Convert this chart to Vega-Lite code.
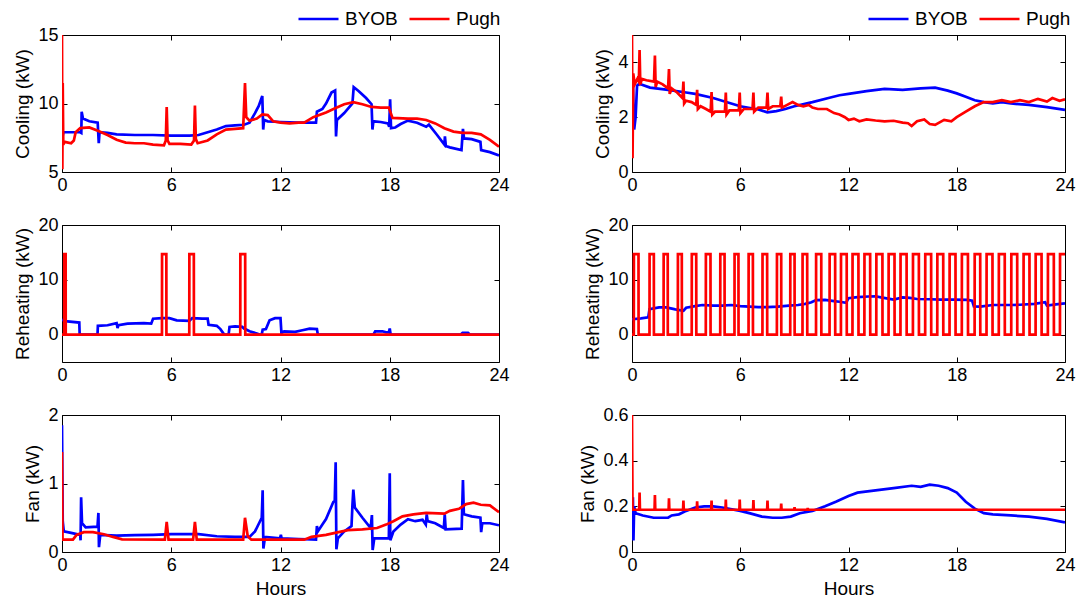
{
  "$schema": "https://vega.github.io/schema/vega-lite/v6.json",
  "padding": {"left": 13, "top": 8, "right": 5, "bottom": 5},
  "background": "white",
  "config": {
    "font": "Liberation Sans",
    "view": {"stroke": "black", "strokeWidth": 1},
    "line": {"strokeWidth": 2.7},
    "axis": {"domain": false, "grid": false, "ticks": true, "tickSize": -5, "tickColor": "black", "tickWidth": 1,
      "labelFont": "Liberation Sans", "labelFontSize": 18, "labelColor": "black", "labelPadding": 9, "labelFlush": false,
      "titleFont": "Liberation Sans", "titleFontSize": 19, "titleFontWeight": "normal", "titleColor": "black", "titlePadding": 5},
    "axisX": {"labelPadding": 9, "titlePadding": 5},
    "legend": {"orient": "none", "legendX": 235, "legendY": -26, "direction": "horizontal", "symbolType": "stroke", "symbolSize": 1600, "clipHeight": 20,
      "symbolStrokeWidth": 2.7, "labelFont": "Liberation Sans", "labelFontSize": 19, "labelColor": "black", "labelOffset": 5, "columnPadding": 10, "padding": 0}
  },
  "datasets": {
    "cl": [
      {"s":"BYOB","h":0,"v":10.2},{"s":"BYOB","h":0.03,"v":7.6},{"s":"BYOB","h":0.08,"v":7.9},{"s":"BYOB","h":0.5,"v":7.9},{"s":"BYOB","h":1.0,"v":7.9},{"s":"BYOB","h":1.06,"v":7.85},{"s":"BYOB","h":1.08,"v":9.4},{"s":"BYOB","h":1.15,"v":8.9},{"s":"BYOB","h":1.5,"v":8.7},{"s":"BYOB","h":1.96,"v":8.6},{"s":"BYOB","h":2.02,"v":7.1},{"s":"BYOB","h":2.06,"v":7.9},{"s":"BYOB","h":2.5,"v":7.85},{"s":"BYOB","h":3,"v":7.75},{"s":"BYOB","h":4,"v":7.7},{"s":"BYOB","h":5,"v":7.7},{"s":"BYOB","h":6,"v":7.65},{"s":"BYOB","h":7,"v":7.65},{"s":"BYOB","h":7.5,"v":7.7},{"s":"BYOB","h":8,"v":7.9},{"s":"BYOB","h":8.5,"v":8.1},{"s":"BYOB","h":9,"v":8.35},{"s":"BYOB","h":9.5,"v":8.4},{"s":"BYOB","h":10,"v":8.45},{"s":"BYOB","h":10.3,"v":8.6},{"s":"BYOB","h":10.6,"v":9.3},{"s":"BYOB","h":10.8,"v":9.8},{"s":"BYOB","h":11.0,"v":10.55},{"s":"BYOB","h":11.05,"v":8.1},{"s":"BYOB","h":11.1,"v":8.8},{"s":"BYOB","h":11.3,"v":8.7},{"s":"BYOB","h":12,"v":8.65},{"s":"BYOB","h":13,"v":8.6},{"s":"BYOB","h":13.95,"v":8.6},{"s":"BYOB","h":14.0,"v":9.4},{"s":"BYOB","h":14.3,"v":9.6},{"s":"BYOB","h":14.5,"v":10.0},{"s":"BYOB","h":14.8,"v":10.8},{"s":"BYOB","h":15.0,"v":10.95},{"s":"BYOB","h":15.05,"v":7.6},{"s":"BYOB","h":15.1,"v":8.8},{"s":"BYOB","h":15.5,"v":9.3},{"s":"BYOB","h":15.95,"v":10.0},{"s":"BYOB","h":16.02,"v":11.2},{"s":"BYOB","h":16.3,"v":10.9},{"s":"BYOB","h":16.7,"v":10.4},{"s":"BYOB","h":17.0,"v":9.95},{"s":"BYOB","h":17.05,"v":8.1},{"s":"BYOB","h":17.1,"v":8.7},{"s":"BYOB","h":17.5,"v":8.65},{"s":"BYOB","h":17.9,"v":8.55},{"s":"BYOB","h":17.97,"v":8.3},{"s":"BYOB","h":18.02,"v":10.3},{"s":"BYOB","h":18.07,"v":8.2},{"s":"BYOB","h":18.3,"v":8.25},{"s":"BYOB","h":18.6,"v":8.5},{"s":"BYOB","h":19,"v":8.75},{"s":"BYOB","h":19.5,"v":8.6},{"s":"BYOB","h":20,"v":8.3},{"s":"BYOB","h":20.15,"v":8.45},{"s":"BYOB","h":20.6,"v":7.7},{"s":"BYOB","h":21.0,"v":7.0},{"s":"BYOB","h":21.03,"v":7.6},{"s":"BYOB","h":21.08,"v":6.9},{"s":"BYOB","h":21.3,"v":6.8},{"s":"BYOB","h":21.94,"v":6.6},{"s":"BYOB","h":22.02,"v":8.15},{"s":"BYOB","h":22.08,"v":7.45},{"s":"BYOB","h":22.5,"v":7.4},{"s":"BYOB","h":22.98,"v":7.2},{"s":"BYOB","h":23.02,"v":6.6},{"s":"BYOB","h":23.5,"v":6.45},{"s":"BYOB","h":24,"v":6.2},
      {"s":"Pugh","h":0,"v":15},{"s":"Pugh","h":0.02,"v":5.2},{"s":"Pugh","h":0.04,"v":11.5},{"s":"Pugh","h":0.07,"v":7.0},{"s":"Pugh","h":0.15,"v":7.2},{"s":"Pugh","h":0.5,"v":7.1},{"s":"Pugh","h":0.65,"v":7.3},{"s":"Pugh","h":0.75,"v":7.9},{"s":"Pugh","h":1.0,"v":8.2},{"s":"Pugh","h":1.5,"v":8.25},{"s":"Pugh","h":2.0,"v":8.0},{"s":"Pugh","h":2.5,"v":7.7},{"s":"Pugh","h":3.0,"v":7.35},{"s":"Pugh","h":3.5,"v":7.15},{"s":"Pugh","h":4,"v":7.1},{"s":"Pugh","h":4.5,"v":7.1},{"s":"Pugh","h":5,"v":7.0},{"s":"Pugh","h":5.6,"v":6.95},{"s":"Pugh","h":5.7,"v":7.3},{"s":"Pugh","h":5.75,"v":9.75},{"s":"Pugh","h":5.8,"v":7.3},{"s":"Pugh","h":5.9,"v":7.05},{"s":"Pugh","h":6.5,"v":7.05},{"s":"Pugh","h":7.1,"v":7.0},{"s":"Pugh","h":7.25,"v":7.3},{"s":"Pugh","h":7.3,"v":9.85},{"s":"Pugh","h":7.35,"v":7.4},{"s":"Pugh","h":7.45,"v":7.1},{"s":"Pugh","h":8,"v":7.3},{"s":"Pugh","h":8.5,"v":7.75},{"s":"Pugh","h":9,"v":8.1},{"s":"Pugh","h":9.5,"v":8.15},{"s":"Pugh","h":9.95,"v":8.2},{"s":"Pugh","h":10.05,"v":11.5},{"s":"Pugh","h":10.12,"v":9.0},{"s":"Pugh","h":10.3,"v":8.75},{"s":"Pugh","h":10.7,"v":8.9},{"s":"Pugh","h":11,"v":9.2},{"s":"Pugh","h":11.3,"v":9.15},{"s":"Pugh","h":11.6,"v":8.7},{"s":"Pugh","h":12,"v":8.6},{"s":"Pugh","h":12.5,"v":8.55},{"s":"Pugh","h":13,"v":8.6},{"s":"Pugh","h":13.3,"v":8.6},{"s":"Pugh","h":13.8,"v":9.0},{"s":"Pugh","h":14.5,"v":9.35},{"s":"Pugh","h":15,"v":9.65},{"s":"Pugh","h":15.5,"v":9.95},{"s":"Pugh","h":16,"v":10.1},{"s":"Pugh","h":16.5,"v":9.95},{"s":"Pugh","h":17,"v":9.75},{"s":"Pugh","h":17.5,"v":9.7},{"s":"Pugh","h":17.95,"v":9.7},{"s":"Pugh","h":18.15,"v":8.95},{"s":"Pugh","h":19,"v":8.9},{"s":"Pugh","h":19.5,"v":8.9},{"s":"Pugh","h":20,"v":8.8},{"s":"Pugh","h":20.5,"v":8.55},{"s":"Pugh","h":21,"v":8.2},{"s":"Pugh","h":21.5,"v":7.95},{"s":"Pugh","h":22,"v":7.85},{"s":"Pugh","h":22.5,"v":7.85},{"s":"Pugh","h":23,"v":7.75},{"s":"Pugh","h":23.5,"v":7.35},{"s":"Pugh","h":24,"v":6.85}
    ],
    "cr": [
      {"s":"BYOB","h":0.05,"v":3.2},{"s":"BYOB","h":0.12,"v":1.55},{"s":"BYOB","h":0.2,"v":2.0},{"s":"BYOB","h":0.28,"v":3.15},{"s":"BYOB","h":0.4,"v":3.22},{"s":"BYOB","h":1,"v":3.08},{"s":"BYOB","h":2,"v":3.0},{"s":"BYOB","h":3,"v":2.9},{"s":"BYOB","h":3.5,"v":2.85},{"s":"BYOB","h":4.5,"v":2.7},{"s":"BYOB","h":5.5,"v":2.5},{"s":"BYOB","h":6,"v":2.4},{"s":"BYOB","h":7,"v":2.28},{"s":"BYOB","h":7.5,"v":2.18},{"s":"BYOB","h":8,"v":2.22},{"s":"BYOB","h":8.5,"v":2.3},{"s":"BYOB","h":9,"v":2.4},{"s":"BYOB","h":10,"v":2.55},{"s":"BYOB","h":11,"v":2.72},{"s":"BYOB","h":11.5,"v":2.8},{"s":"BYOB","h":12,"v":2.85},{"s":"BYOB","h":13,"v":2.95},{"s":"BYOB","h":14,"v":3.03},{"s":"BYOB","h":15,"v":3.0},{"s":"BYOB","h":16,"v":3.05},{"s":"BYOB","h":16.8,"v":3.08},{"s":"BYOB","h":17.5,"v":2.97},{"s":"BYOB","h":18,"v":2.87},{"s":"BYOB","h":18.5,"v":2.75},{"s":"BYOB","h":19,"v":2.62},{"s":"BYOB","h":19.5,"v":2.55},{"s":"BYOB","h":20,"v":2.5},{"s":"BYOB","h":20.5,"v":2.55},{"s":"BYOB","h":21,"v":2.5},{"s":"BYOB","h":22,"v":2.45},{"s":"BYOB","h":23,"v":2.37},{"s":"BYOB","h":24,"v":2.27},
      {"s":"Pugh","h":0,"v":5.0},{"s":"Pugh","h":0.03,"v":0.5},{"s":"Pugh","h":0.07,"v":3.6},{"s":"Pugh","h":0.15,"v":3.2},{"s":"Pugh","h":0.3,"v":3.4},{"s":"Pugh","h":0.38,"v":3.3},{"s":"Pugh","h":0.42,"v":4.45},{"s":"Pugh","h":0.46,"v":3.2},{"s":"Pugh","h":0.55,"v":3.4},{"s":"Pugh","h":0.8,"v":3.35},{"s":"Pugh","h":1.22,"v":3.3},{"s":"Pugh","h":1.27,"v":4.25},{"s":"Pugh","h":1.31,"v":3.1},{"s":"Pugh","h":1.4,"v":3.3},{"s":"Pugh","h":1.7,"v":3.2},{"s":"Pugh","h":2.0,"v":3.05},{"s":"Pugh","h":2.05,"v":3.76},{"s":"Pugh","h":2.09,"v":2.85},{"s":"Pugh","h":2.2,"v":3.05},{"s":"Pugh","h":2.5,"v":2.9},{"s":"Pugh","h":2.8,"v":2.7},{"s":"Pugh","h":2.85,"v":3.3},{"s":"Pugh","h":2.89,"v":2.5},{"s":"Pugh","h":3.0,"v":2.6},{"s":"Pugh","h":3.3,"v":2.55},{"s":"Pugh","h":3.56,"v":2.45},{"s":"Pugh","h":3.61,"v":3.0},{"s":"Pugh","h":3.65,"v":2.3},{"s":"Pugh","h":3.8,"v":2.4},{"s":"Pugh","h":4.1,"v":2.3},{"s":"Pugh","h":4.36,"v":2.2},{"s":"Pugh","h":4.41,"v":2.92},{"s":"Pugh","h":4.45,"v":2.1},{"s":"Pugh","h":4.6,"v":2.2},{"s":"Pugh","h":5.15,"v":2.2},{"s":"Pugh","h":5.2,"v":2.9},{"s":"Pugh","h":5.24,"v":2.1},{"s":"Pugh","h":5.4,"v":2.25},{"s":"Pugh","h":5.92,"v":2.25},{"s":"Pugh","h":5.97,"v":2.9},{"s":"Pugh","h":6.01,"v":2.15},{"s":"Pugh","h":6.2,"v":2.3},{"s":"Pugh","h":6.68,"v":2.3},{"s":"Pugh","h":6.73,"v":2.9},{"s":"Pugh","h":6.77,"v":2.2},{"s":"Pugh","h":7.0,"v":2.35},{"s":"Pugh","h":7.46,"v":2.35},{"s":"Pugh","h":7.51,"v":2.9},{"s":"Pugh","h":7.55,"v":2.3},{"s":"Pugh","h":7.8,"v":2.4},{"s":"Pugh","h":8.22,"v":2.4},{"s":"Pugh","h":8.27,"v":2.75},{"s":"Pugh","h":8.31,"v":2.35},{"s":"Pugh","h":8.6,"v":2.45},{"s":"Pugh","h":8.9,"v":2.55},{"s":"Pugh","h":9.2,"v":2.45},{"s":"Pugh","h":9.5,"v":2.4},{"s":"Pugh","h":9.8,"v":2.45},{"s":"Pugh","h":10.0,"v":2.35},{"s":"Pugh","h":10.3,"v":2.3},{"s":"Pugh","h":10.8,"v":2.3},{"s":"Pugh","h":11.2,"v":2.15},{"s":"Pugh","h":11.5,"v":2.1},{"s":"Pugh","h":11.8,"v":2.0},{"s":"Pugh","h":12,"v":1.9},{"s":"Pugh","h":12.3,"v":1.95},{"s":"Pugh","h":12.6,"v":1.85},{"s":"Pugh","h":13,"v":1.92},{"s":"Pugh","h":13.5,"v":1.88},{"s":"Pugh","h":14,"v":1.85},{"s":"Pugh","h":14.5,"v":1.87},{"s":"Pugh","h":15,"v":1.8},{"s":"Pugh","h":15.3,"v":1.78},{"s":"Pugh","h":15.5,"v":1.68},{"s":"Pugh","h":15.8,"v":1.85},{"s":"Pugh","h":16.2,"v":1.92},{"s":"Pugh","h":16.5,"v":1.75},{"s":"Pugh","h":16.8,"v":1.72},{"s":"Pugh","h":17.3,"v":1.9},{"s":"Pugh","h":17.7,"v":1.85},{"s":"Pugh","h":18,"v":2.0},{"s":"Pugh","h":18.5,"v":2.2},{"s":"Pugh","h":19,"v":2.4},{"s":"Pugh","h":19.5,"v":2.55},{"s":"Pugh","h":20,"v":2.55},{"s":"Pugh","h":20.5,"v":2.62},{"s":"Pugh","h":21,"v":2.55},{"s":"Pugh","h":21.5,"v":2.62},{"s":"Pugh","h":22,"v":2.55},{"s":"Pugh","h":22.5,"v":2.67},{"s":"Pugh","h":23,"v":2.57},{"s":"Pugh","h":23.3,"v":2.7},{"s":"Pugh","h":23.7,"v":2.6},{"s":"Pugh","h":24,"v":2.65}
    ],
    "rl": [
      {"s":"BYOB","h":0,"v":2.7},{"s":"BYOB","h":0.3,"v":2.4},{"s":"BYOB","h":0.95,"v":2.2},{"s":"BYOB","h":0.97,"v":0},{"s":"BYOB","h":1.95,"v":0},{"s":"BYOB","h":1.97,"v":1.6},{"s":"BYOB","h":2.5,"v":1.7},{"s":"BYOB","h":3.0,"v":2.1},{"s":"BYOB","h":3.05,"v":1.2},{"s":"BYOB","h":3.1,"v":1.7},{"s":"BYOB","h":3.6,"v":2.0},{"s":"BYOB","h":4.5,"v":2.1},{"s":"BYOB","h":4.9,"v":2.0},{"s":"BYOB","h":5.0,"v":2.9},{"s":"BYOB","h":5.5,"v":3.0},{"s":"BYOB","h":5.9,"v":3.0},{"s":"BYOB","h":6.3,"v":2.6},{"s":"BYOB","h":7.0,"v":2.5},{"s":"BYOB","h":7.15,"v":3.0},{"s":"BYOB","h":7.7,"v":2.9},{"s":"BYOB","h":8.0,"v":2.9},{"s":"BYOB","h":8.05,"v":1.8},{"s":"BYOB","h":8.5,"v":1.6},{"s":"BYOB","h":8.7,"v":1.0},{"s":"BYOB","h":8.9,"v":0.05},{"s":"BYOB","h":9.15,"v":0},{"s":"BYOB","h":9.2,"v":1.4},{"s":"BYOB","h":9.5,"v":1.5},{"s":"BYOB","h":9.9,"v":1.4},{"s":"BYOB","h":10.0,"v":1.1},{"s":"BYOB","h":10.3,"v":0.6},{"s":"BYOB","h":10.7,"v":0.2},{"s":"BYOB","h":10.85,"v":0},{"s":"BYOB","h":10.97,"v":0},{"s":"BYOB","h":11.02,"v":0.9},{"s":"BYOB","h":11.2,"v":1.0},{"s":"BYOB","h":11.4,"v":2.6},{"s":"BYOB","h":11.7,"v":3.0},{"s":"BYOB","h":12.0,"v":3.0},{"s":"BYOB","h":12.05,"v":0.3},{"s":"BYOB","h":12.2,"v":0.6},{"s":"BYOB","h":12.8,"v":0.5},{"s":"BYOB","h":13.2,"v":0.8},{"s":"BYOB","h":13.6,"v":1.1},{"s":"BYOB","h":14.0,"v":1.0},{"s":"BYOB","h":14.05,"v":0},{"s":"BYOB","h":17.1,"v":0},{"s":"BYOB","h":17.2,"v":0.6},{"s":"BYOB","h":17.6,"v":0.6},{"s":"BYOB","h":17.8,"v":0.4},{"s":"BYOB","h":17.95,"v":0.4},{"s":"BYOB","h":18.0,"v":1.1},{"s":"BYOB","h":18.05,"v":0},{"s":"BYOB","h":21.9,"v":0},{"s":"BYOB","h":22.0,"v":0.3},{"s":"BYOB","h":22.3,"v":0.3},{"s":"BYOB","h":22.4,"v":0},{"s":"BYOB","h":24,"v":0},
      {"s":"Pugh","h":0,"v":0},{"s":"Pugh","h":0.12,"v":0},{"s":"Pugh","h":0.125,"v":14.7},{"s":"Pugh","h":0.2,"v":14.7},{"s":"Pugh","h":0.205,"v":0},{"s":"Pugh","h":5.49,"v":0},{"s":"Pugh","h":5.495,"v":14.7},{"s":"Pugh","h":5.73,"v":14.7},{"s":"Pugh","h":5.735,"v":0},{"s":"Pugh","h":6.99,"v":0},{"s":"Pugh","h":6.995,"v":14.7},{"s":"Pugh","h":7.24,"v":14.7},{"s":"Pugh","h":7.245,"v":0},{"s":"Pugh","h":9.79,"v":0},{"s":"Pugh","h":9.795,"v":14.7},{"s":"Pugh","h":10.06,"v":14.7},{"s":"Pugh","h":10.065,"v":0},{"s":"Pugh","h":24,"v":0}
    ],
    "rr": [
      {"s":"BYOB","h":0,"v":2.8},{"s":"BYOB","h":0.5,"v":2.95},{"s":"BYOB","h":0.9,"v":3.15},{"s":"BYOB","h":0.97,"v":4.65},{"s":"BYOB","h":1.5,"v":4.95},{"s":"BYOB","h":1.9,"v":4.95},{"s":"BYOB","h":2.4,"v":4.6},{"s":"BYOB","h":2.85,"v":4.35},{"s":"BYOB","h":3.0,"v":4.9},{"s":"BYOB","h":3.5,"v":5.2},{"s":"BYOB","h":3.9,"v":5.4},{"s":"BYOB","h":4.5,"v":5.3},{"s":"BYOB","h":5.0,"v":5.3},{"s":"BYOB","h":5.5,"v":5.4},{"s":"BYOB","h":6.0,"v":5.2},{"s":"BYOB","h":6.5,"v":5.1},{"s":"BYOB","h":7.0,"v":5.0},{"s":"BYOB","h":7.5,"v":5.0},{"s":"BYOB","h":8.1,"v":5.1},{"s":"BYOB","h":8.7,"v":5.3},{"s":"BYOB","h":9.2,"v":5.4},{"s":"BYOB","h":9.6,"v":5.6},{"s":"BYOB","h":9.95,"v":5.9},{"s":"BYOB","h":10.2,"v":6.3},{"s":"BYOB","h":10.7,"v":6.35},{"s":"BYOB","h":11.2,"v":6.1},{"s":"BYOB","h":11.5,"v":6.0},{"s":"BYOB","h":11.87,"v":5.8},{"s":"BYOB","h":12.0,"v":6.65},{"s":"BYOB","h":12.5,"v":6.85},{"s":"BYOB","h":13.1,"v":6.95},{"s":"BYOB","h":13.5,"v":7.0},{"s":"BYOB","h":13.8,"v":6.8},{"s":"BYOB","h":14.5,"v":6.4},{"s":"BYOB","h":15.0,"v":6.8},{"s":"BYOB","h":15.4,"v":6.7},{"s":"BYOB","h":15.8,"v":6.5},{"s":"BYOB","h":16.5,"v":6.45},{"s":"BYOB","h":17.1,"v":6.4},{"s":"BYOB","h":17.8,"v":6.4},{"s":"BYOB","h":18.6,"v":6.35},{"s":"BYOB","h":18.85,"v":6.2},{"s":"BYOB","h":18.95,"v":5.15},{"s":"BYOB","h":19.3,"v":5.1},{"s":"BYOB","h":20.0,"v":5.4},{"s":"BYOB","h":21.0,"v":5.4},{"s":"BYOB","h":21.5,"v":5.45},{"s":"BYOB","h":22.3,"v":5.6},{"s":"BYOB","h":22.9,"v":5.9},{"s":"BYOB","h":23.0,"v":5.3},{"s":"BYOB","h":23.5,"v":5.5},{"s":"BYOB","h":24,"v":5.7},
      {"s":"Pugh","h":0,"v":0},
      {"s":"Pugh","h":0.1,"v":0},{"s":"Pugh","h":0.105,"v":14.7},{"s":"Pugh","h":0.36,"v":14.7},{"s":"Pugh","h":0.365,"v":0},
      {"s":"Pugh","h":0.97,"v":0},{"s":"Pugh","h":0.975,"v":14.7},{"s":"Pugh","h":1.21,"v":14.7},{"s":"Pugh","h":1.215,"v":0},
      {"s":"Pugh","h":1.75,"v":0},{"s":"Pugh","h":1.755,"v":14.7},{"s":"Pugh","h":1.98,"v":14.7},{"s":"Pugh","h":1.985,"v":0},
      {"s":"Pugh","h":2.54,"v":0},{"s":"Pugh","h":2.545,"v":14.7},{"s":"Pugh","h":2.76,"v":14.7},{"s":"Pugh","h":2.765,"v":0},
      {"s":"Pugh","h":3.31,"v":0},{"s":"Pugh","h":3.315,"v":14.7},{"s":"Pugh","h":3.56,"v":14.7},{"s":"Pugh","h":3.565,"v":0},
      {"s":"Pugh","h":4.09,"v":0},{"s":"Pugh","h":4.095,"v":14.7},{"s":"Pugh","h":4.35,"v":14.7},{"s":"Pugh","h":4.355,"v":0},
      {"s":"Pugh","h":4.89,"v":0},{"s":"Pugh","h":4.895,"v":14.7},{"s":"Pugh","h":5.13,"v":14.7},{"s":"Pugh","h":5.135,"v":0},
      {"s":"Pugh","h":5.68,"v":0},{"s":"Pugh","h":5.685,"v":14.7},{"s":"Pugh","h":5.9,"v":14.7},{"s":"Pugh","h":5.905,"v":0},
      {"s":"Pugh","h":6.46,"v":0},{"s":"Pugh","h":6.465,"v":14.7},{"s":"Pugh","h":6.7,"v":14.7},{"s":"Pugh","h":6.705,"v":0},
      {"s":"Pugh","h":7.23,"v":0},{"s":"Pugh","h":7.235,"v":14.7},{"s":"Pugh","h":7.49,"v":14.7},{"s":"Pugh","h":7.495,"v":0},
      {"s":"Pugh","h":8.03,"v":0},{"s":"Pugh","h":8.035,"v":14.7},{"s":"Pugh","h":8.27,"v":14.7},{"s":"Pugh","h":8.275,"v":0},
      {"s":"Pugh","h":8.77,"v":0},{"s":"Pugh","h":8.775,"v":14.7},{"s":"Pugh","h":9.01,"v":14.7},{"s":"Pugh","h":9.015,"v":0},
      {"s":"Pugh","h":9.45,"v":0},{"s":"Pugh","h":9.455,"v":14.7},{"s":"Pugh","h":9.71,"v":14.7},{"s":"Pugh","h":9.715,"v":0},
      {"s":"Pugh","h":10.2,"v":0},{"s":"Pugh","h":10.205,"v":14.7},{"s":"Pugh","h":10.49,"v":14.7},{"s":"Pugh","h":10.495,"v":0},
      {"s":"Pugh","h":10.95,"v":0},{"s":"Pugh","h":10.955,"v":14.7},{"s":"Pugh","h":11.26,"v":14.7},{"s":"Pugh","h":11.265,"v":0},
      {"s":"Pugh","h":11.58,"v":0},{"s":"Pugh","h":11.585,"v":14.7},{"s":"Pugh","h":11.9,"v":14.7},{"s":"Pugh","h":11.905,"v":0},
      {"s":"Pugh","h":12.22,"v":0},{"s":"Pugh","h":12.225,"v":14.7},{"s":"Pugh","h":12.55,"v":14.7},{"s":"Pugh","h":12.555,"v":0},
      {"s":"Pugh","h":12.88,"v":0},{"s":"Pugh","h":12.885,"v":14.7},{"s":"Pugh","h":13.2,"v":14.7},{"s":"Pugh","h":13.205,"v":0},
      {"s":"Pugh","h":13.54,"v":0},{"s":"Pugh","h":13.545,"v":14.7},{"s":"Pugh","h":13.88,"v":14.7},{"s":"Pugh","h":13.885,"v":0},
      {"s":"Pugh","h":14.22,"v":0},{"s":"Pugh","h":14.225,"v":14.7},{"s":"Pugh","h":14.55,"v":14.7},{"s":"Pugh","h":14.555,"v":0},
      {"s":"Pugh","h":14.88,"v":0},{"s":"Pugh","h":14.885,"v":14.7},{"s":"Pugh","h":15.22,"v":14.7},{"s":"Pugh","h":15.225,"v":0},
      {"s":"Pugh","h":15.57,"v":0},{"s":"Pugh","h":15.575,"v":14.7},{"s":"Pugh","h":15.9,"v":14.7},{"s":"Pugh","h":15.905,"v":0},
      {"s":"Pugh","h":16.25,"v":0},{"s":"Pugh","h":16.255,"v":14.7},{"s":"Pugh","h":16.58,"v":14.7},{"s":"Pugh","h":16.585,"v":0},
      {"s":"Pugh","h":16.92,"v":0},{"s":"Pugh","h":16.925,"v":14.7},{"s":"Pugh","h":17.25,"v":14.7},{"s":"Pugh","h":17.255,"v":0},
      {"s":"Pugh","h":17.6,"v":0},{"s":"Pugh","h":17.605,"v":14.7},{"s":"Pugh","h":17.93,"v":14.7},{"s":"Pugh","h":17.935,"v":0},
      {"s":"Pugh","h":18.28,"v":0},{"s":"Pugh","h":18.285,"v":14.7},{"s":"Pugh","h":18.62,"v":14.7},{"s":"Pugh","h":18.625,"v":0},
      {"s":"Pugh","h":18.99,"v":0},{"s":"Pugh","h":18.995,"v":14.7},{"s":"Pugh","h":19.3,"v":14.7},{"s":"Pugh","h":19.305,"v":0},
      {"s":"Pugh","h":19.65,"v":0},{"s":"Pugh","h":19.655,"v":14.7},{"s":"Pugh","h":19.98,"v":14.7},{"s":"Pugh","h":19.985,"v":0},
      {"s":"Pugh","h":20.33,"v":0},{"s":"Pugh","h":20.335,"v":14.7},{"s":"Pugh","h":20.66,"v":14.7},{"s":"Pugh","h":20.665,"v":0},
      {"s":"Pugh","h":21.02,"v":0},{"s":"Pugh","h":21.025,"v":14.7},{"s":"Pugh","h":21.35,"v":14.7},{"s":"Pugh","h":21.355,"v":0},
      {"s":"Pugh","h":21.7,"v":0},{"s":"Pugh","h":21.705,"v":14.7},{"s":"Pugh","h":22.03,"v":14.7},{"s":"Pugh","h":22.035,"v":0},
      {"s":"Pugh","h":22.37,"v":0},{"s":"Pugh","h":22.375,"v":14.7},{"s":"Pugh","h":22.7,"v":14.7},{"s":"Pugh","h":22.705,"v":0},
      {"s":"Pugh","h":23.05,"v":0},{"s":"Pugh","h":23.055,"v":14.7},{"s":"Pugh","h":23.38,"v":14.7},{"s":"Pugh","h":23.385,"v":0},
      {"s":"Pugh","h":23.72,"v":0},{"s":"Pugh","h":23.725,"v":14.7},{"s":"Pugh","h":24,"v":14.7}
    ],
    "fl": [
      {"s":"BYOB","h":0,"v":1.85},{"s":"BYOB","h":0.04,"v":0.45},{"s":"BYOB","h":0.1,"v":0.3},{"s":"BYOB","h":0.5,"v":0.28},{"s":"BYOB","h":1.0,"v":0.25},{"s":"BYOB","h":1.02,"v":0.17},{"s":"BYOB","h":1.05,"v":0.8},{"s":"BYOB","h":1.1,"v":0.42},{"s":"BYOB","h":1.3,"v":0.36},{"s":"BYOB","h":1.95,"v":0.37},{"s":"BYOB","h":2.0,"v":0.57},{"s":"BYOB","h":2.03,"v":0.07},{"s":"BYOB","h":2.1,"v":0.25},{"s":"BYOB","h":3,"v":0.24},{"s":"BYOB","h":4,"v":0.245},{"s":"BYOB","h":5,"v":0.25},{"s":"BYOB","h":6,"v":0.26},{"s":"BYOB","h":7.5,"v":0.26},{"s":"BYOB","h":8.5,"v":0.23},{"s":"BYOB","h":9.5,"v":0.22},{"s":"BYOB","h":10.3,"v":0.22},{"s":"BYOB","h":10.6,"v":0.3},{"s":"BYOB","h":10.97,"v":0.5},{"s":"BYOB","h":11.02,"v":0.9},{"s":"BYOB","h":11.06,"v":0.05},{"s":"BYOB","h":11.15,"v":0.22},{"s":"BYOB","h":11.98,"v":0.2},{"s":"BYOB","h":12.02,"v":0.25},{"s":"BYOB","h":12.06,"v":0.2},{"s":"BYOB","h":13,"v":0.19},{"s":"BYOB","h":13.95,"v":0.18},{"s":"BYOB","h":14.0,"v":0.38},{"s":"BYOB","h":14.05,"v":0.3},{"s":"BYOB","h":14.3,"v":0.4},{"s":"BYOB","h":14.5,"v":0.48},{"s":"BYOB","h":14.9,"v":0.73},{"s":"BYOB","h":14.98,"v":0.75},{"s":"BYOB","h":15.03,"v":1.31},{"s":"BYOB","h":15.07,"v":0.04},{"s":"BYOB","h":15.15,"v":0.2},{"s":"BYOB","h":15.5,"v":0.3},{"s":"BYOB","h":15.9,"v":0.38},{"s":"BYOB","h":15.95,"v":0.68},{"s":"BYOB","h":16.0,"v":0.91},{"s":"BYOB","h":16.08,"v":0.65},{"s":"BYOB","h":16.5,"v":0.5},{"s":"BYOB","h":16.95,"v":0.35},{"s":"BYOB","h":17.02,"v":0.54},{"s":"BYOB","h":17.06,"v":0.03},{"s":"BYOB","h":17.15,"v":0.2},{"s":"BYOB","h":17.95,"v":0.2},{"s":"BYOB","h":18.0,"v":1.15},{"s":"BYOB","h":18.03,"v":0.17},{"s":"BYOB","h":18.2,"v":0.3},{"s":"BYOB","h":18.6,"v":0.4},{"s":"BYOB","h":19,"v":0.48},{"s":"BYOB","h":19.4,"v":0.45},{"s":"BYOB","h":19.8,"v":0.47},{"s":"BYOB","h":19.98,"v":0.4},{"s":"BYOB","h":20.03,"v":0.55},{"s":"BYOB","h":20.08,"v":0.45},{"s":"BYOB","h":20.5,"v":0.42},{"s":"BYOB","h":20.97,"v":0.35},{"s":"BYOB","h":21.02,"v":0.55},{"s":"BYOB","h":21.07,"v":0.33},{"s":"BYOB","h":21.95,"v":0.34},{"s":"BYOB","h":22.02,"v":1.05},{"s":"BYOB","h":22.07,"v":0.55},{"s":"BYOB","h":22.5,"v":0.52},{"s":"BYOB","h":22.98,"v":0.5},{"s":"BYOB","h":23.02,"v":0.29},{"s":"BYOB","h":23.08,"v":0.42},{"s":"BYOB","h":23.5,"v":0.42},{"s":"BYOB","h":24,"v":0.39},
      {"s":"Pugh","h":0,"v":1.46},{"s":"Pugh","h":0.03,"v":0.18},{"s":"Pugh","h":0.6,"v":0.18},{"s":"Pugh","h":0.8,"v":0.25},{"s":"Pugh","h":1.2,"v":0.29},{"s":"Pugh","h":1.7,"v":0.29},{"s":"Pugh","h":2.3,"v":0.26},{"s":"Pugh","h":2.8,"v":0.22},{"s":"Pugh","h":3.3,"v":0.185},{"s":"Pugh","h":5.65,"v":0.18},{"s":"Pugh","h":5.75,"v":0.44},{"s":"Pugh","h":5.85,"v":0.18},{"s":"Pugh","h":7.2,"v":0.18},{"s":"Pugh","h":7.3,"v":0.44},{"s":"Pugh","h":7.4,"v":0.18},{"s":"Pugh","h":9.95,"v":0.18},{"s":"Pugh","h":10.05,"v":0.5},{"s":"Pugh","h":10.2,"v":0.23},{"s":"Pugh","h":10.4,"v":0.18},{"s":"Pugh","h":13.3,"v":0.18},{"s":"Pugh","h":13.7,"v":0.22},{"s":"Pugh","h":14.5,"v":0.25},{"s":"Pugh","h":15.0,"v":0.28},{"s":"Pugh","h":15.7,"v":0.32},{"s":"Pugh","h":16.5,"v":0.33},{"s":"Pugh","h":17.3,"v":0.35},{"s":"Pugh","h":17.8,"v":0.4},{"s":"Pugh","h":18.2,"v":0.45},{"s":"Pugh","h":18.7,"v":0.52},{"s":"Pugh","h":19.3,"v":0.55},{"s":"Pugh","h":20,"v":0.57},{"s":"Pugh","h":21,"v":0.56},{"s":"Pugh","h":21.3,"v":0.6},{"s":"Pugh","h":21.8,"v":0.63},{"s":"Pugh","h":22.2,"v":0.7},{"s":"Pugh","h":22.6,"v":0.72},{"s":"Pugh","h":23,"v":0.69},{"s":"Pugh","h":23.5,"v":0.68},{"s":"Pugh","h":24,"v":0.58}
    ],
    "fr": [
      {"s":"BYOB","h":0.05,"v":0.24},{"s":"BYOB","h":0.08,"v":0.05},{"s":"BYOB","h":0.12,"v":0.2},{"s":"BYOB","h":0.2,"v":0.17},{"s":"BYOB","h":0.6,"v":0.16},{"s":"BYOB","h":1.2,"v":0.15},{"s":"BYOB","h":2.0,"v":0.15},{"s":"BYOB","h":2.2,"v":0.16},{"s":"BYOB","h":2.6,"v":0.165},{"s":"BYOB","h":3,"v":0.18},{"s":"BYOB","h":3.5,"v":0.195},{"s":"BYOB","h":4,"v":0.2},{"s":"BYOB","h":4.5,"v":0.2},{"s":"BYOB","h":5,"v":0.195},{"s":"BYOB","h":6,"v":0.18},{"s":"BYOB","h":6.5,"v":0.17},{"s":"BYOB","h":7.2,"v":0.155},{"s":"BYOB","h":7.8,"v":0.15},{"s":"BYOB","h":8.3,"v":0.15},{"s":"BYOB","h":8.8,"v":0.155},{"s":"BYOB","h":9.3,"v":0.17},{"s":"BYOB","h":10,"v":0.18},{"s":"BYOB","h":10.7,"v":0.2},{"s":"BYOB","h":11.3,"v":0.22},{"s":"BYOB","h":12,"v":0.245},{"s":"BYOB","h":12.5,"v":0.26},{"s":"BYOB","h":13.5,"v":0.27},{"s":"BYOB","h":14.5,"v":0.28},{"s":"BYOB","h":15.5,"v":0.29},{"s":"BYOB","h":16,"v":0.285},{"s":"BYOB","h":16.5,"v":0.295},{"s":"BYOB","h":17,"v":0.29},{"s":"BYOB","h":17.5,"v":0.28},{"s":"BYOB","h":18,"v":0.26},{"s":"BYOB","h":18.5,"v":0.22},{"s":"BYOB","h":19,"v":0.19},{"s":"BYOB","h":19.5,"v":0.17},{"s":"BYOB","h":20,"v":0.165},{"s":"BYOB","h":21,"v":0.16},{"s":"BYOB","h":22,"v":0.155},{"s":"BYOB","h":23,"v":0.145},{"s":"BYOB","h":24,"v":0.13},
      {"s":"Pugh","h":0,"v":0.6},{"s":"Pugh","h":0.03,"v":0.185},{"s":"Pugh","h":0.4,"v":0.185},{"s":"Pugh","h":0.42,"v":0.26},{"s":"Pugh","h":0.44,"v":0.185},{"s":"Pugh","h":1.25,"v":0.185},{"s":"Pugh","h":1.27,"v":0.25},{"s":"Pugh","h":1.29,"v":0.185},{"s":"Pugh","h":2.03,"v":0.185},{"s":"Pugh","h":2.05,"v":0.235},{"s":"Pugh","h":2.07,"v":0.185},{"s":"Pugh","h":2.83,"v":0.185},{"s":"Pugh","h":2.85,"v":0.225},{"s":"Pugh","h":2.87,"v":0.185},{"s":"Pugh","h":3.59,"v":0.185},{"s":"Pugh","h":3.61,"v":0.222},{"s":"Pugh","h":3.63,"v":0.185},{"s":"Pugh","h":4.39,"v":0.185},{"s":"Pugh","h":4.41,"v":0.225},{"s":"Pugh","h":4.43,"v":0.185},{"s":"Pugh","h":5.18,"v":0.185},{"s":"Pugh","h":5.2,"v":0.23},{"s":"Pugh","h":5.22,"v":0.185},{"s":"Pugh","h":5.95,"v":0.185},{"s":"Pugh","h":5.97,"v":0.23},{"s":"Pugh","h":5.99,"v":0.185},{"s":"Pugh","h":6.71,"v":0.185},{"s":"Pugh","h":6.73,"v":0.227},{"s":"Pugh","h":6.75,"v":0.185},{"s":"Pugh","h":7.49,"v":0.185},{"s":"Pugh","h":7.51,"v":0.225},{"s":"Pugh","h":7.53,"v":0.185},{"s":"Pugh","h":8.25,"v":0.185},{"s":"Pugh","h":8.27,"v":0.212},{"s":"Pugh","h":8.29,"v":0.185},{"s":"Pugh","h":8.99,"v":0.185},{"s":"Pugh","h":9.01,"v":0.196},{"s":"Pugh","h":9.03,"v":0.185},{"s":"Pugh","h":9.72,"v":0.185},{"s":"Pugh","h":9.74,"v":0.192},{"s":"Pugh","h":9.76,"v":0.185},{"s":"Pugh","h":24,"v":0.185}
    ]
  },
  "concat": [
    {"width": 437, "height": 137, "data": {"name": "cl"},
     "layer": [
      {"mark": {"type": "line", "clip": true},
       "encoding": {
        "x": {"field": "h", "type": "quantitative", "scale": {"domain": [0, 24], "nice": false}, "axis": {"values": [0, 6, 12, 18, 24], "title": null}},
        "y": {"field": "v", "type": "quantitative", "scale": {"domain": [5, 15], "nice": false, "zero": false}, "axis": {"values": [5, 10, 15], "format": "~r", "title": "Cooling (kW)"}},
        "color": {"field": "s", "type": "nominal", "scale": {"domain": ["BYOB", "Pugh"], "range": ["#0000ff", "#ff0000"]}, "legend": {"title": null}}}},
      {"mark": {"type": "point", "opacity": 0},
       "encoding": {
        "x": {"field": "h", "type": "quantitative", "axis": {"orient": "top", "values": [0, 6, 12, 18, 24], "labels": false, "title": null}},
        "y": {"field": "v", "type": "quantitative", "axis": {"orient": "right", "values": [5, 10, 15], "labels": false, "title": null}}}}
     ],
     "resolve": {"axis": {"x": "independent", "y": "independent"}}},
    {"width": 433, "height": 137, "data": {"name": "cr"},
     "layer": [
      {"mark": {"type": "line", "clip": true},
       "encoding": {
        "x": {"field": "h", "type": "quantitative", "scale": {"domain": [0, 24], "nice": false}, "axis": {"values": [0, 6, 12, 18, 24], "title": null}},
        "y": {"field": "v", "type": "quantitative", "scale": {"domain": [0, 5], "nice": false}, "axis": {"values": [0, 2, 4], "format": "~r", "title": "Cooling (kW)"}},
        "color": {"field": "s", "type": "nominal", "scale": {"domain": ["BYOB", "Pugh"], "range": ["#0000ff", "#ff0000"]}, "legend": {"title": null}}}},
      {"mark": {"type": "point", "opacity": 0},
       "encoding": {
        "x": {"field": "h", "type": "quantitative", "axis": {"orient": "top", "values": [0, 6, 12, 18, 24], "labels": false, "title": null}},
        "y": {"field": "v", "type": "quantitative", "axis": {"orient": "right", "values": [0, 2, 4], "labels": false, "title": null}}}}
     ],
     "resolve": {"axis": {"x": "independent", "y": "independent"}}},
    {"width": 437, "height": 137, "data": {"name": "rl"},
     "layer": [
      {"mark": {"type": "line", "clip": true},
       "encoding": {
        "x": {"field": "h", "type": "quantitative", "scale": {"domain": [0, 24], "nice": false}, "axis": {"values": [0, 6, 12, 18, 24], "title": null}},
        "y": {"field": "v", "type": "quantitative", "scale": {"domain": [-5, 20], "nice": false}, "axis": {"values": [0, 10, 20], "format": "~r", "title": "Reheating (kW)"}},
        "color": {"field": "s", "type": "nominal", "scale": {"domain": ["BYOB", "Pugh"], "range": ["#0000ff", "#ff0000"]}, "legend": null}}},
      {"mark": {"type": "point", "opacity": 0},
       "encoding": {
        "x": {"field": "h", "type": "quantitative", "axis": {"orient": "top", "values": [0, 6, 12, 18, 24], "labels": false, "title": null}},
        "y": {"field": "v", "type": "quantitative", "axis": {"orient": "right", "values": [0, 10, 20], "labels": false, "title": null}}}}
     ],
     "resolve": {"axis": {"x": "independent", "y": "independent"}}},
    {"width": 433, "height": 137, "data": {"name": "rr"},
     "layer": [
      {"mark": {"type": "line", "clip": true},
       "encoding": {
        "x": {"field": "h", "type": "quantitative", "scale": {"domain": [0, 24], "nice": false}, "axis": {"values": [0, 6, 12, 18, 24], "title": null}},
        "y": {"field": "v", "type": "quantitative", "scale": {"domain": [-5, 20], "nice": false}, "axis": {"values": [0, 10, 20], "format": "~r", "title": "Reheating (kW)"}},
        "color": {"field": "s", "type": "nominal", "scale": {"domain": ["BYOB", "Pugh"], "range": ["#0000ff", "#ff0000"]}, "legend": null}}},
      {"mark": {"type": "point", "opacity": 0},
       "encoding": {
        "x": {"field": "h", "type": "quantitative", "axis": {"orient": "top", "values": [0, 6, 12, 18, 24], "labels": false, "title": null}},
        "y": {"field": "v", "type": "quantitative", "axis": {"orient": "right", "values": [0, 10, 20], "labels": false, "title": null}}}}
     ],
     "resolve": {"axis": {"x": "independent", "y": "independent"}}},
    {"width": 437, "height": 137, "data": {"name": "fl"},
     "layer": [
      {"mark": {"type": "line", "clip": true},
       "encoding": {
        "x": {"field": "h", "type": "quantitative", "scale": {"domain": [0, 24], "nice": false}, "axis": {"values": [0, 6, 12, 18, 24], "title": "Hours"}},
        "y": {"field": "v", "type": "quantitative", "scale": {"domain": [0, 2], "nice": false}, "axis": {"values": [0, 1, 2], "format": "~r", "title": "Fan (kW)"}},
        "color": {"field": "s", "type": "nominal", "scale": {"domain": ["BYOB", "Pugh"], "range": ["#0000ff", "#ff0000"]}, "legend": null}}},
      {"mark": {"type": "point", "opacity": 0},
       "encoding": {
        "x": {"field": "h", "type": "quantitative", "axis": {"orient": "top", "values": [0, 6, 12, 18, 24], "labels": false, "title": null}},
        "y": {"field": "v", "type": "quantitative", "axis": {"orient": "right", "values": [0, 1, 2], "labels": false, "title": null}}}}
     ],
     "resolve": {"axis": {"x": "independent", "y": "independent"}}},
    {"width": 433, "height": 137, "data": {"name": "fr"},
     "layer": [
      {"mark": {"type": "line", "clip": true},
       "encoding": {
        "x": {"field": "h", "type": "quantitative", "scale": {"domain": [0, 24], "nice": false}, "axis": {"values": [0, 6, 12, 18, 24], "title": "Hours"}},
        "y": {"field": "v", "type": "quantitative", "scale": {"domain": [0, 0.6], "nice": false}, "axis": {"values": [0, 0.2, 0.4, 0.6], "format": "~r", "title": "Fan (kW)"}},
        "color": {"field": "s", "type": "nominal", "scale": {"domain": ["BYOB", "Pugh"], "range": ["#0000ff", "#ff0000"]}, "legend": null}}},
      {"mark": {"type": "point", "opacity": 0},
       "encoding": {
        "x": {"field": "h", "type": "quantitative", "axis": {"orient": "top", "values": [0, 6, 12, 18, 24], "labels": false, "title": null}},
        "y": {"field": "v", "type": "quantitative", "axis": {"orient": "right", "values": [0, 0.2, 0.4, 0.6], "labels": false, "title": null}}}}
     ],
     "resolve": {"axis": {"x": "independent", "y": "independent"}}}
  ],
  "columns": 2,
  "spacing": {"row": 53, "column": 133},
  "bounds": "flush",
  "resolve": {"legend": {"color": "independent"}}
}
